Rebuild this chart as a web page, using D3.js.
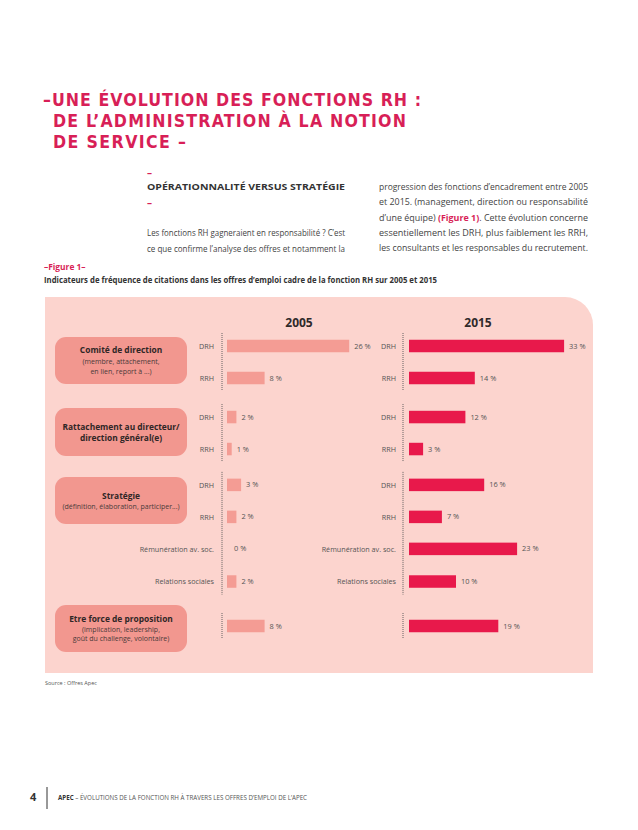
<!DOCTYPE html>
<html>
<head>
<meta charset="utf-8">
<script src="https://cdn.jsdelivr.net/npm/d3@7"></script>
<style>
  html, body { margin: 0; padding: 0; background: #fff; }
  svg { display: block; }
  text { font-family: "Open Sans", "Noto Sans", sans-serif; }
</style>
</head>
<body>
<svg id="chart" width="638" height="830"></svg>
<script>
// ---------- DATA ----------
const rowLabels = ["DRH", "RRH", "DRH", "RRH", "DRH", "RRH", "Rémunération av. soc.", "Relations sociales", ""];
const rowGroup  = [0, 0, 1, 1, 2, 2, 2, 2, 3];
const values2005 = [26, 8, 2, 1, 3, 2, 0, 2, 8];
const values2015 = [33, 14, 12, 3, 16, 7, 23, 10, 19];
const years = ["2005", "2015"];
const groupTitles = ["Comité de direction", "Rattachement au directeur/\ndirection général(e)", "Stratégie", "Etre force de proposition"];
const groupSubtitles = ["(membre, attachement,\nen lien, report à ...)", "", "(définition, élaboration, participer...)", "(implication, leadership,\ngoût du challenge, volontaire)"];
const titleLines = ["–UNE ÉVOLUTION DES FONCTIONS RH :", "DE L’ADMINISTRATION À LA NOTION", "DE SERVICE –"];
const leftPara = ["Les fonctions RH gagneraient en responsabilité ? C’est", "ce que confirme l’analyse  des offres et notamment la"];
const rightPara = ["progression des fonctions d’encadrement entre 2005", "et 2015. (management, direction ou responsabilité", "d’une équipe) ", "essentiellement les DRH, plus faiblement les RRH,", "les consultants et les responsables du recrutement."];

// ---------- STYLE ----------
const PINK = "#d81f57";
const BG = "#fcd4ce";
const BOX = "#f2978f";
const BAR05 = "#f49c94";
const BAR15 = "#e8194b";

const svg = d3.select("#chart");

// Title
const titleX = [43, 53, 53], titleW = [378, 353, 133];
titleLines.forEach((t, i) => {
  svg.append("text")
    .attr("x", titleX[i]).attr("y", 106 + i * 21)
    .attr("font-size", 17.6).attr("font-weight", 700).attr("fill", PINK)
    .style("font-family", "'DejaVu Sans Condensed', 'DejaVu Sans', sans-serif")
    .attr("textLength", titleW[i]).attr("lengthAdjust", "spacing")
    .text(t);
});

// Section heading
svg.append("text").attr("x", 147).attr("y", 176).attr("font-size", 10).attr("font-weight", 700).attr("fill", PINK).text("–");
svg.append("text").attr("x", 147).attr("y", 190).attr("font-size", 9.6).attr("font-weight", 700).attr("fill", "#333")
  .attr("textLength", 198).attr("lengthAdjust", "spacingAndGlyphs").text("OPÉRATIONNALITÉ VERSUS STRATÉGIE");
svg.append("text").attr("x", 147).attr("y", 206).attr("font-size", 10).attr("font-weight", 700).attr("fill", PINK).text("–");

// Paragraphs (justified)
leftPara.forEach((t, i) => {
  svg.append("text").attr("x", 147).attr("y", 236 + i * 15.5).attr("font-size", 9.4).attr("fill", "#444")
    .attr("textLength", 198).attr("lengthAdjust", "spacingAndGlyphs").text(t);
});
rightPara.forEach((t, i) => {
  const yy = 190 + i * 15.3;
  if (i === 2) {
    const tx = svg.append("text").attr("x", 379).attr("y", yy).attr("font-size", 9.4).attr("fill", "#444")
      .attr("textLength", 209).attr("lengthAdjust", "spacingAndGlyphs");
    tx.append("tspan").text("d’une équipe) ");
    tx.append("tspan").attr("font-weight", 700).attr("fill", PINK).text("(Figure 1)");
    tx.append("tspan").text(". Cette évolution concerne");
  } else {
    svg.append("text").attr("x", 379).attr("y", yy).attr("font-size", 9.4).attr("fill", "#444")
      .attr("textLength", 209).attr("lengthAdjust", "spacingAndGlyphs").text(t);
  }
});

// Figure caption
svg.append("text").attr("x", 44).attr("y", 270).attr("font-size", 8.4).attr("font-weight", 700).attr("fill", PINK).text("–Figure 1–");
svg.append("text").attr("x", 44).attr("y", 283).attr("font-size", 8.4).attr("font-weight", 700).attr("fill", "#333")
  .attr("textLength", 393).attr("lengthAdjust", "spacingAndGlyphs")
  .text("Indicateurs de fréquence de citations dans les offres d’emploi cadre de la fonction RH sur 2005 et 2015");

// Panel background with rounded top-right corner
const pL = 45, pT = 297, pR = 593, pB = 673, r = 28;
svg.append("path")
  .attr("d", `M${pL},${pT} H${pR - r} A${r},${r} 0 0 1 ${pR},${pT + r} V${pB} H${pL} Z`)
  .attr("fill", BG);

// Row positions (layout slots including group gaps)
const slots = [0, 1, 2.22, 3.22, 4.34, 5.34, 6.34, 7.36, 8.75];
const y = d3.scaleLinear().domain([0, 1]).range([346, 378]);
const rowY = i => y(slots[i]);
const barH = 12.5;

// X scales
const x05 = d3.scaleLinear().domain([0, 35]).range([227, 227 + 35 * 4.7]);
const x15 = d3.scaleLinear().domain([0, 35]).range([409, 409 + 35 * 4.7]);

// Group membership
const groupIdx = d3.range(groupTitles.length);
const groupRows = groupIdx.map(g => {
  const rows = rowGroup.map((gg, i) => gg === g ? i : -1).filter(i => i >= 0);
  return { first: rows[0], last: rows[rows.length - 1] };
});

// Group boxes
const boxes = [
  { top: 337, bottom: 384 }, { top: 408, bottom: 456 }, { top: 477, bottom: 524 }, { top: 605, bottom: 652 }
];
const bx0 = 55, bx1 = 187, bcx = (bx0 + bx1) / 2;
boxes.forEach((b, g) => {
  svg.append("rect").attr("x", bx0).attr("y", b.top).attr("width", bx1 - bx0).attr("height", b.bottom - b.top)
    .attr("rx", 11).attr("fill", BOX);
  const tl = groupTitles[g].split("\n");
  const sl = groupSubtitles[g] ? groupSubtitles[g].split("\n") : [];
  const lineH = [10.5, 11, 10, 9.5][g];
  const n = tl.length + sl.length;
  const cy = (b.top + b.bottom) / 2;
  let yy = cy - (n - 1) * lineH / 2 + 3;
  tl.forEach(t => {
    svg.append("text").attr("x", bcx).attr("y", yy).attr("text-anchor", "middle")
      .attr("font-size", 8.4).attr("font-weight", 700).attr("fill", "#2f2626").text(t);
    yy += lineH;
  });
  sl.forEach(t => {
    svg.append("text").attr("x", bcx).attr("y", yy).attr("text-anchor", "middle")
      .attr("font-size", 7).attr("fill", "#4a3a3a").text(t);
    yy += lineH;
  });
});

// Panels per year
const panels = [
  { year: years[0], vals: values2005, x: x05, color: BAR05, axisX: 222, labelX: 214, yearX: 299 },
  { year: years[1], vals: values2015, x: x15, color: BAR15, axisX: 403, labelX: 396, yearX: 478 }
];
panels.forEach(p => {
  svg.append("text").attr("x", p.yearX).attr("y", 327).attr("text-anchor", "middle")
    .attr("font-size", 12).attr("font-weight", 700).attr("fill", "#2f2a2a").text(p.year);

  // Row label axis
  const rowScale = d3.scaleOrdinal().domain(d3.range(rowLabels.length)).range(d3.range(rowLabels.length).map(rowY));
  const axis = d3.axisLeft(rowScale).tickSize(0).tickPadding(0).tickFormat(i => rowLabels[i]);
  const ag = svg.append("g").attr("transform", `translate(${p.labelX},0)`).call(axis);
  ag.select(".domain").remove();
  ag.selectAll("text").attr("font-size", 7.2).attr("fill", "#555").attr("dy", "0.32em")
    .style("font-family", "'Open Sans', sans-serif");

  // Dotted group lines
  groupIdx.forEach(g => {
    const gr = groupRows[g];
    svg.append("line").attr("x1", p.axisX).attr("x2", p.axisX)
      .attr("y1", rowY(gr.first) - 13).attr("y2", rowY(gr.last) + 13)
      .attr("stroke", "#555").attr("stroke-width", 0.9).attr("stroke-dasharray", "1,1");
  });

  // Bars
  svg.append("g").selectAll("rect").data(p.vals).join("rect")
    .attr("x", p.x(0)).attr("y", (d, i) => rowY(i) - barH / 2)
    .attr("width", d => p.x(d) - p.x(0)).attr("height", barH)
    .attr("fill", p.color);

  // Value labels
  svg.append("g").selectAll("text").data(p.vals).join("text")
    .attr("x", d => p.x(d) + (d === 0 ? 7 : 5)).attr("y", (d, i) => rowY(i)).attr("dy", "0.35em")
    .attr("font-size", 7.4).attr("fill", "#555").text(d => d + " %");
});

// Source
svg.append("text").attr("x", 45).attr("y", 685).attr("font-size", 5.5).attr("fill", "#555").text("Source : Offres Apec");

// Footer
svg.append("text").attr("x", 30).attr("y", 801).attr("font-size", 11).attr("font-weight", 700).attr("fill", "#333").text("4");
svg.append("line").attr("x1", 47).attr("x2", 47).attr("y1", 787).attr("y2", 809).attr("stroke", "#333").attr("stroke-width", 1);
const ft = svg.append("text").attr("x", 58).attr("y", 800).attr("font-size", 6.3).attr("fill", "#555")
  .attr("textLength", 249).attr("lengthAdjust", "spacingAndGlyphs");
ft.append("tspan").attr("font-weight", 700).attr("fill", "#333").text("APEC");
ft.append("tspan").text(" – ÉVOLUTIONS DE LA FONCTION RH À TRAVERS LES OFFRES D’EMPLOI DE L’APEC");
</script>
</body>
</html>
